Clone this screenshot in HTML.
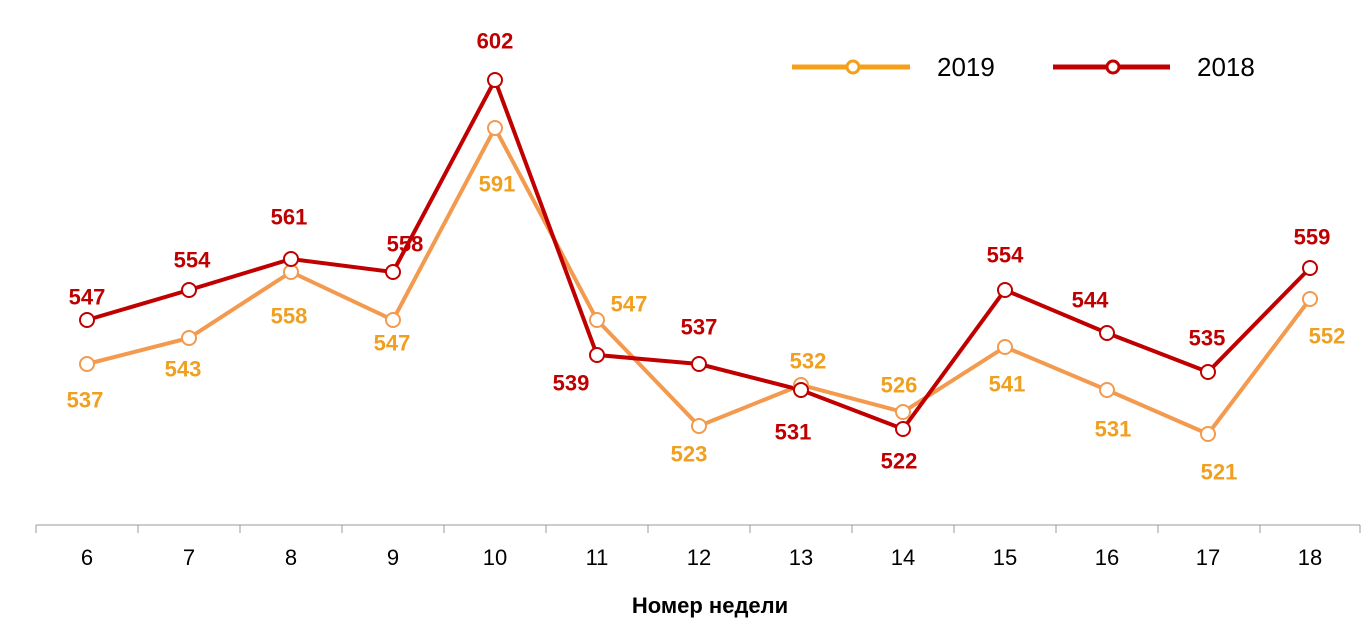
<!DOCTYPE html>
<html><head><meta charset="utf-8"><style>
body{margin:0;background:#fff;}
text{font-family:"Liberation Sans",Arial,sans-serif;}
</style></head><body>
<svg width="1372" height="629" xmlns="http://www.w3.org/2000/svg">
<rect width="1372" height="629" fill="#fff"/>
<line x1="36" y1="525" x2="1360" y2="525" stroke="#999" stroke-width="1"/>
<g stroke="#999" stroke-width="1">
<line x1="36" y1="525" x2="36" y2="533"/><line x1="138" y1="525" x2="138" y2="533"/><line x1="240" y1="525" x2="240" y2="533"/><line x1="342" y1="525" x2="342" y2="533"/><line x1="444" y1="525" x2="444" y2="533"/><line x1="546" y1="525" x2="546" y2="533"/><line x1="648" y1="525" x2="648" y2="533"/><line x1="750" y1="525" x2="750" y2="533"/><line x1="852" y1="525" x2="852" y2="533"/><line x1="954" y1="525" x2="954" y2="533"/><line x1="1056" y1="525" x2="1056" y2="533"/><line x1="1158" y1="525" x2="1158" y2="533"/><line x1="1260" y1="525" x2="1260" y2="533"/><line x1="1360" y1="525" x2="1360" y2="533"/>
</g>
<g font-size="22" fill="#000" text-anchor="middle">
<text x="87" y="565">6</text><text x="189" y="565">7</text><text x="291" y="565">8</text><text x="393" y="565">9</text><text x="495" y="565">10</text><text x="597" y="565">11</text><text x="699" y="565">12</text><text x="801" y="565">13</text><text x="903" y="565">14</text><text x="1005" y="565">15</text><text x="1107" y="565">16</text><text x="1208" y="565">17</text><text x="1310" y="565">18</text>
</g>
<text x="710" y="613" font-size="22" font-weight="bold" text-anchor="middle">Номер недели</text>
<polyline fill="none" stroke="#F39A4E" stroke-width="4" points="87,364 189,338 291,272 393,320 495,128 597,320 699,426 801,385 903,412 1005,347 1107,390 1208,434 1310,299"/>
<polyline fill="none" stroke="#C00000" stroke-width="4" points="87,320 189,290 291,259 393,272 495,80 597,355 699,364 801,390 903,429 1005,290 1107,333 1208,372 1310,268"/>
<g fill="#fff" stroke="#F39A4E" stroke-width="2">
<circle cx="87" cy="364" r="7"/><circle cx="189" cy="338" r="7"/><circle cx="291" cy="272" r="7"/><circle cx="393" cy="320" r="7"/><circle cx="495" cy="128" r="7"/><circle cx="597" cy="320" r="7"/><circle cx="699" cy="426" r="7"/><circle cx="801" cy="385" r="7"/><circle cx="903" cy="412" r="7"/><circle cx="1005" cy="347" r="7"/><circle cx="1107" cy="390" r="7"/><circle cx="1208" cy="434" r="7"/><circle cx="1310" cy="299" r="7"/>
</g>
<g fill="#fff" stroke="#C00000" stroke-width="2">
<circle cx="87" cy="320" r="7"/><circle cx="189" cy="290" r="7"/><circle cx="291" cy="259" r="7"/><circle cx="393" cy="272" r="7"/><circle cx="495" cy="80" r="7"/><circle cx="597" cy="355" r="7"/><circle cx="699" cy="364" r="7"/><circle cx="801" cy="390" r="7"/><circle cx="903" cy="429" r="7"/><circle cx="1005" cy="290" r="7"/><circle cx="1107" cy="333" r="7"/><circle cx="1208" cy="372" r="7"/><circle cx="1310" cy="268" r="7"/>
</g>
<g font-size="22" font-weight="bold" fill="#C00000" text-anchor="middle" dominant-baseline="central">
<text x="87" y="297">547</text><text x="192" y="260">554</text><text x="289" y="217">561</text><text x="405" y="244">558</text><text x="495" y="41">602</text><text x="571" y="383">539</text><text x="699" y="327">537</text><text x="793" y="432">531</text><text x="899" y="461">522</text><text x="1005" y="255">554</text><text x="1090" y="300">544</text><text x="1207" y="338">535</text><text x="1312" y="237">559</text>
</g>
<g font-size="22" font-weight="bold" fill="#F0A020" text-anchor="middle" dominant-baseline="central">
<text x="85" y="400">537</text><text x="183" y="369">543</text><text x="289" y="316">558</text><text x="392" y="343">547</text><text x="497" y="184">591</text><text x="629" y="304">547</text><text x="689" y="454">523</text><text x="808" y="361">532</text><text x="899" y="385">526</text><text x="1007" y="384">541</text><text x="1113" y="429">531</text><text x="1219" y="472">521</text><text x="1327" y="336">552</text>
</g>
<line x1="792" y1="67" x2="910" y2="67" stroke="#F5A01A" stroke-width="5"/>
<circle cx="853" cy="67" r="6" fill="#fff" stroke="#F5A01A" stroke-width="3"/>
<text x="937" y="76" font-size="26">2019</text>
<line x1="1053" y1="67" x2="1170" y2="67" stroke="#C00000" stroke-width="5"/>
<circle cx="1113" cy="67" r="6" fill="#fff" stroke="#C00000" stroke-width="3"/>
<text x="1197" y="76" font-size="26">2018</text>
</svg>
</body></html>
